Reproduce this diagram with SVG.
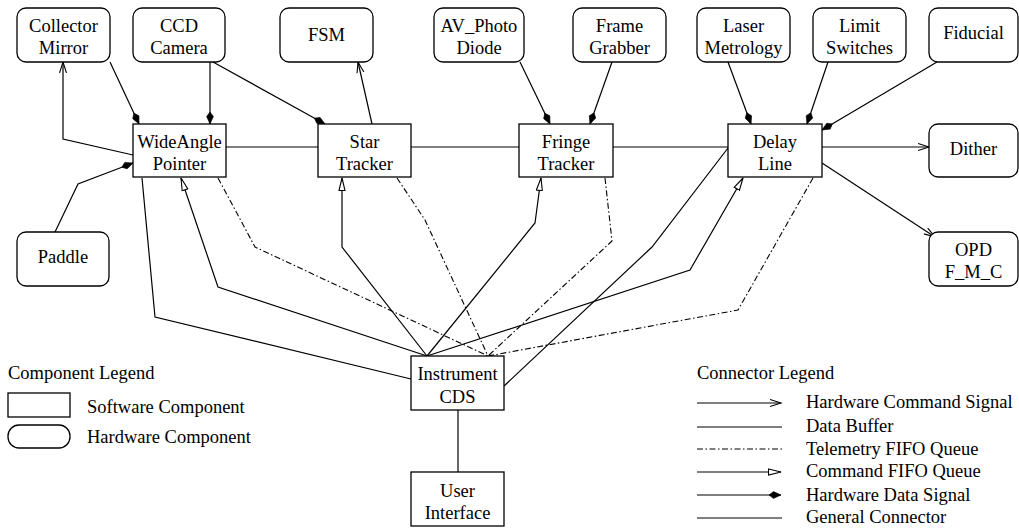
<svg xmlns="http://www.w3.org/2000/svg" width="1019" height="532" viewBox="0 0 1019 532">
<style>
text{font-family:"Liberation Serif","Times New Roman",serif;font-size:18.5px;fill:#000;}
.c{text-anchor:middle;}
.sw{fill:#fff;stroke:#000;stroke-width:1.3;}
.hw{fill:#fff;stroke:#000;stroke-width:1.3;}
.ln{fill:none;stroke:#000;stroke-width:1.2;}
.tm{fill:none;stroke:#000;stroke-width:1.1;stroke-dasharray:6 2.5 1.5 2.5;}
.hc{marker-end:url(#mV);}
.cf{marker-end:url(#mT);}
.hd{marker-end:url(#mK);}
</style>
<defs>
<marker id="mV" markerUnits="userSpaceOnUse" markerWidth="14" markerHeight="10" refX="11" refY="4" orient="auto"><path d="M0,0.5 L11,4 L0,7.5" fill="none" stroke="#000" stroke-width="1.1"/></marker>
<marker id="mT" markerUnits="userSpaceOnUse" markerWidth="16" markerHeight="10" refX="13" refY="4" orient="auto"><path d="M0.5,1 L13,4 L0.5,7 Z" fill="#fff" stroke="#000" stroke-width="1.1"/></marker>
<marker id="mK" markerUnits="userSpaceOnUse" markerWidth="14" markerHeight="10" refX="12" refY="4" orient="auto"><path d="M0,4 L4.5,0.6 L12,4 L4.5,7.4 Z" fill="#000" stroke="#000" stroke-width="0.6"/></marker>
</defs>

<g id="connectors">
<path class="ln" d="M226,147 H318"/>
<path class="ln" d="M411,147 H519"/>
<path class="ln" d="M613,147 H728"/>
<path class="ln hc" d="M822,147 H929"/>
<path class="ln hc" d="M133,155 L63,139 L63,62"/>
<path class="ln hd" d="M110,62 L139,124"/>
<path class="ln hd" d="M210,62 L210,124"/>
<path class="ln hd" d="M213,62 L325,124"/>
<path class="ln hc" d="M372,124 L358,62"/>
<path class="ln hd" d="M520,62 L550,124"/>
<path class="ln hd" d="M612,62 L590,124"/>
<path class="ln hd" d="M728,62 L751,124"/>
<path class="ln hd" d="M828,62 L807,124"/>
<path class="ln hd" d="M937,62 L822,130"/>
<path class="ln hc" d="M822,163 L935,237"/>
<path class="ln hd" d="M55,232 L78,184 L133,163"/>
<path class="ln" d="M142,178 L155,317 L411,379"/>
<path class="ln cf" d="M427,356 L218,287 L181,178"/>
<path class="tm" d="M218,178 L255,247 L488,356"/>
<path class="ln cf" d="M427,356 L342,247 L342,178"/>
<path class="tm" d="M397,178 L425,220 L488,356"/>
<path class="ln cf" d="M427,356 L535,223 L541,178"/>
<path class="tm" d="M605,178 L612,241 L488,356"/>
<path class="ln cf" d="M427,356 L690,270 L743,178"/>
<path class="tm" d="M813,178 L738,310 L488,356"/>
<path class="ln" d="M728,148 L652,247 L504,386"/>
<path class="ln" d="M458,410 L458,472"/>
</g>

<g id="collector-mirror"><rect class="hw" x="17" y="8" width="93" height="54" rx="9"/><text class="c" x="63.5" y="32">Collector</text><text class="c" x="63.5" y="54">Mirror</text></g>
<g id="ccd-camera"><rect class="hw" x="133" y="8" width="92" height="54" rx="9"/><text class="c" x="179" y="32">CCD</text><text class="c" x="179" y="54">Camera</text></g>
<g id="fsm"><rect class="hw" x="280" y="8" width="93" height="54" rx="9"/><text class="c" x="326.5" y="41">FSM</text></g>
<g id="av-photo-diode"><rect class="hw" x="434" y="8" width="90" height="54" rx="9"/><text class="c" x="479" y="32">AV_Photo</text><text class="c" x="479" y="54">Diode</text></g>
<g id="frame-grabber"><rect class="hw" x="573" y="8" width="93" height="54" rx="9"/><text class="c" x="619.5" y="32">Frame</text><text class="c" x="619.5" y="54">Grabber</text></g>
<g id="laser-metrology"><rect class="hw" x="697" y="8" width="93" height="54" rx="9"/><text class="c" x="743.5" y="32">Laser</text><text class="c" x="743.5" y="54">Metrology</text></g>
<g id="limit-switches"><rect class="hw" x="813" y="8" width="93" height="54" rx="9"/><text class="c" x="859.5" y="32">Limit</text><text class="c" x="859.5" y="54">Switches</text></g>
<g id="fiducial"><rect class="hw" x="929" y="8" width="89" height="54" rx="9"/><text class="c" x="973.5" y="39">Fiducial</text></g>
<g id="dither"><rect class="hw" x="929" y="124" width="89" height="53" rx="9"/><text class="c" x="973.5" y="155">Dither</text></g>
<g id="opd-fmc"><rect class="hw" x="929" y="232" width="89" height="54" rx="9"/><text class="c" x="973.5" y="256">OPD</text><text class="c" x="973.5" y="278">F_M_C</text></g>
<g id="paddle"><rect class="hw" x="17" y="232" width="92" height="54" rx="9"/><text class="c" x="63" y="263">Paddle</text></g>

<g id="wideangle-pointer"><rect class="sw" x="133" y="124" width="93" height="53"/><text class="c" x="179.5" y="148">WideAngle</text><text class="c" x="179.5" y="170">Pointer</text></g>
<g id="star-tracker"><rect class="sw" x="318" y="124" width="93" height="53"/><text class="c" x="364.5" y="148">Star</text><text class="c" x="364.5" y="170">Tracker</text></g>
<g id="fringe-tracker"><rect class="sw" x="519" y="124" width="94" height="53"/><text class="c" x="566" y="148">Fringe</text><text class="c" x="566" y="170">Tracker</text></g>
<g id="delay-line"><rect class="sw" x="728" y="124" width="94" height="53"/><text class="c" x="775" y="148">Delay</text><text class="c" x="775" y="170">Line</text></g>
<g id="instrument-cds"><rect class="sw" x="411" y="356" width="93" height="54"/><text class="c" x="457.5" y="380">Instrument</text><text class="c" x="457.5" y="403">CDS</text></g>
<g id="user-interface"><rect class="sw" x="411" y="472" width="93" height="54"/><text class="c" x="457.5" y="497">User</text><text class="c" x="457.5" y="519">Interface</text></g>

<g id="component-legend">
<text x="8" y="379">Component Legend</text>
<rect class="sw" x="8" y="393" width="62" height="24"/>
<text x="87" y="413">Software Component</text>
<rect class="hw" x="8" y="425" width="62" height="23" rx="11"/>
<text x="87" y="443">Hardware Component</text>
</g>

<g id="connector-legend">
<text x="697" y="379">Connector Legend</text>
<path class="ln hc" d="M697,403 H781"/>
<text x="806" y="408">Hardware Command Signal</text>
<path class="ln" d="M697,427 H782"/>
<text x="806" y="432">Data Buffer</text>
<path class="tm" d="M697,449 H782"/>
<text x="806" y="455">Telemetry FIFO Queue</text>
<path class="ln cf" d="M697,472 H781"/>
<text x="806" y="477">Command FIFO Queue</text>
<path class="ln hd" d="M697,495 H781"/>
<text x="806" y="501">Hardware Data Signal</text>
<path class="ln" d="M697,518 H782"/>
<text x="806" y="523">General Connector</text>
</g>
</svg>
